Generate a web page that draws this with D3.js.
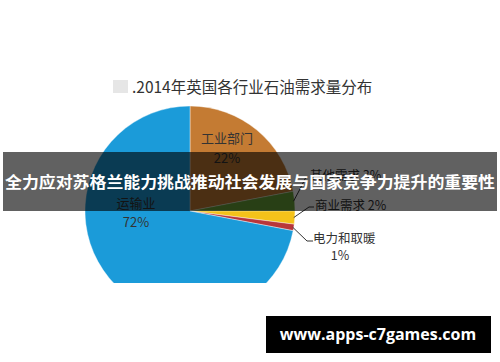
<!DOCTYPE html>
<html>
<head>
<meta charset="utf-8">
<script src="https://cdn.jsdelivr.net/npm/d3@7"></script>
<style>
  body { margin: 0; background: #fff; }
  svg { display: block; font-family: "Noto Sans CJK SC", "Noto Sans", sans-serif; }
</style>
</head>
<body>
<div id="chart"></div>
<script>
// data
var sectors = ["工业部门", "其他需求", "商业需求", "电力和取暖", "运输业"];
var shares = [22, 3, 2, 1, 72];
var colors = ["#c47b33", "#6aa637", "#f4c21a", "#b9363a", "#1b9bd9"];
var chartTitle = ".2014年英国各行业石油需求量分布";
var bannerText = "全力应对苏格兰能力挑战推动社会发展与国家竞争力提升的重要性";
var siteText = "www.apps-c7games.com";

var width = 500, height = 362;
var cx = 190, cy = 211, radius = 105;

var svg = d3.select("#chart").append("svg")
    .attr("width", width)
    .attr("height", height);

svg.append("rect").attr("width", width).attr("height", height).attr("fill", "#fff");

// pie is cut off at the bottom in the original picture
svg.append("clipPath").attr("id", "cut")
    .append("rect").attr("x", 0).attr("y", 0).attr("width", width).attr("height", 283);

var pie = d3.pie().sort(null).value(function (d) { return d; });
var arcs = pie(shares);
var arc = d3.arc().innerRadius(0).outerRadius(radius);
var edge = d3.arc().innerRadius(radius - 1).outerRadius(radius - 1);

var g = svg.append("g").attr("clip-path", "url(#cut)")
    .append("g").attr("transform", "translate(" + cx + "," + cy + ")");

g.selectAll("path")
    .data(arcs)
    .enter()
    .append("path")
    .attr("d", arc)
    .attr("fill", function (d, i) { return colors[i]; })
    .attr("stroke", "#fff")
    .attr("stroke-width", 0.4);

// inside labels (big slices)
var inside = {0: [37, -68, -48], 4: [-54, -3, 16]};
Object.keys(inside).forEach(function (k) {
    var p = inside[k];
    g.append("text").attr("x", p[0]).attr("y", p[1])
        .attr("text-anchor", "middle").attr("font-size", 13).attr("fill", "#333")
        .text(sectors[k]);
    g.append("text").attr("x", p[0]).attr("y", p[2])
        .attr("text-anchor", "middle").attr("font-size", 13).attr("fill", "#333")
        .text(shares[k] + "%");
});

// outside labels with leader lines (small slices)
var outside = {
    1: {bend: [110, -22], end: [116, -34], tx: 120, ty: -31, split: false},
    2: {bend: [119, -4], end: [124, -4], tx: 125, ty: -1, split: false},
    3: {bend: [117, 30], end: [123, 30], tx: 123, ty: 30, split: true}
};
Object.keys(outside).forEach(function (k) {
    var o = outside[k];
    var s = edge.centroid(arcs[k]);
    g.append("polyline")
        .attr("points", [s, o.bend, o.end].map(function (p) { return p.join(","); }).join(" "))
        .attr("fill", "none").attr("stroke", "#333").attr("stroke-width", 1);
    if (o.split) {
        g.append("text").attr("x", o.tx).attr("y", o.ty + 2)
            .attr("font-size", 12.5).attr("fill", "#333").text(sectors[k]);
        g.append("text").attr("x", o.tx + 27).attr("y", o.ty + 19)
            .attr("text-anchor", "middle").attr("font-size", 12.5).attr("fill", "#333")
            .text(shares[k] + "%");
    } else {
        g.append("text").attr("x", o.tx).attr("y", o.ty)
            .attr("font-size", 12.5).attr("fill", "#333")
            .text(sectors[k] + " " + shares[k] + "%");
    }
});

// title
svg.append("rect").attr("x", 113).attr("y", 80).attr("width", 15).attr("height", 13).attr("fill", "#e6e6e6");
svg.append("text").attr("x", 132).attr("y", 93)
    .attr("font-size", 15.5).attr("fill", "#333")
    .text(chartTitle);

// overlay banner
svg.append("rect").attr("x", 3).attr("y", 152).attr("width", 494).attr("height", 59)
    .attr("fill", "rgba(0,0,0,0.62)");
svg.append("text").attr("x", 250).attr("y", 188)
    .attr("text-anchor", "middle").attr("font-size", 16).attr("font-weight", "bold")
    .attr("fill", "#fff")
    .attr("textLength", 490).attr("lengthAdjust", "spacingAndGlyphs")
    .text(bannerText);

// site box
svg.append("rect").attr("x", 266).attr("y", 316).attr("width", 225).attr("height", 37).attr("fill", "#000");
svg.append("text").attr("x", 378).attr("y", 340)
    .attr("text-anchor", "middle").attr("font-size", 16).attr("font-weight", "bold")
    .attr("font-family", "Open Sans, DejaVu Sans, sans-serif")
    .attr("fill", "#fff")
    .text(siteText);
</script>
</body>
</html>
